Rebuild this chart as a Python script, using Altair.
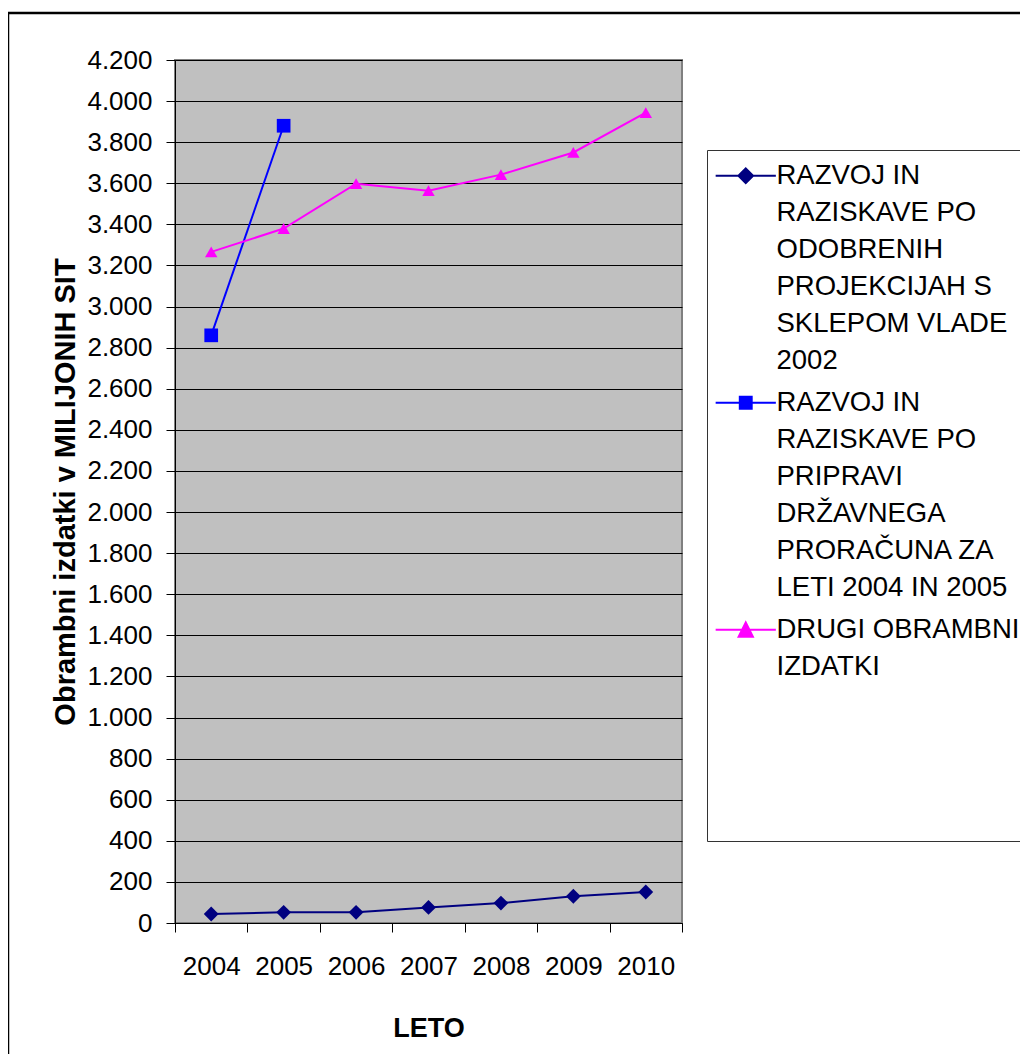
import altair as alt
import pandas as pd

YEARS = ["2004", "2005", "2006", "2007", "2008", "2009", "2010"]
SERIES = [
    "RAZVOJ IN RAZISKAVE PO ODOBRENIH PROJEKCIJAH S SKLEPOM VLADE 2002",
    "RAZVOJ IN RAZISKAVE PO PRIPRAVI DRŽAVNEGA PRORAČUNA ZA LETI 2004 IN 2005",
    "DRUGI OBRAMBNI IZDATKI",
]
LEGEND_LINES = [
    ["RAZVOJ IN", "RAZISKAVE PO", "ODOBRENIH", "PROJEKCIJAH S", "SKLEPOM VLADE", "2002"],
    ["RAZVOJ IN", "RAZISKAVE PO", "PRIPRAVI", "DRŽAVNEGA", "PRORAČUNA ZA", "LETI 2004 IN 2005"],
    ["DRUGI OBRAMBNI", "IZDATKI", "", "", "", ""],
]
VAL_S1 = [44, 52, 52, 76, 97, 130, 151]
YEARS_S2 = ["2004", "2005"]
VAL_S2 = [2860, 3880]
VAL_S3 = [3266, 3380, 3598, 3564, 3642, 3750, 3944]
COLORS = ["#000080", "#0000FF", "#FF00FF"]
SHAPES = ["diamond", "square", "triangle-up"]
MARK_SIZES = [220, 155, 250]
# legend symbols: a line segment with the series marker in its middle
LEGEND_SYMBOLS = [
    "M-4.3,0H4.3M0,-1.05L1.05,0L0,1.05L-1.05,0Z",
    "M-4.3,0H4.3M-0.85,-0.85H0.85V0.85H-0.85Z",
    "M-4.3,0H4.3M0,-1.05L1.02,1.0L-1.02,1.0Z",
]
Y_TICKS = list(range(0, 4201, 200))

rows = []
for y, v in zip(YEARS, VAL_S1):
    rows.append({"series": SERIES[0], "year": y, "value": v})
for y, v in zip(YEARS_S2, VAL_S2):
    rows.append({"series": SERIES[1], "year": y, "value": v})
for y, v in zip(YEARS, VAL_S3):
    rows.append({"series": SERIES[2], "year": y, "value": v})
df = pd.DataFrame(rows)


def arr(lines):
    return "[" + ",".join("'" + l + "'" for l in lines) + "]"


label_expr = (
    f"datum.label == '{SERIES[0]}' ? {arr(LEGEND_LINES[0])} : "
    f"datum.label == '{SERIES[1]}' ? {arr(LEGEND_LINES[1])} : {arr(LEGEND_LINES[2])}"
)

FONT = "Liberation Sans"

legend = alt.Legend(
    orient="none", legendX=532, legendY=90, title=None,
    symbolSize=196, symbolStrokeWidth=2, symbolOpacity=1, symbolOffset=13,
    labelExpr=label_expr, labelFont=FONT, labelFontSize=27.5, labelColor="#000000",
    labelLimit=0, labelBaseline="middle", labelOffset=17,
    padding=12, rowPadding=13, fillColor="#FFFFFF", strokeColor="#333333",
)

x_enc = alt.X(
    "year:N", bandPosition=0.5,
    scale=alt.Scale(type="band", domain=YEARS, paddingInner=0, paddingOuter=0),
    axis=alt.Axis(
        title="LETO", labelAngle=0, tickBand="extent", tickSize=9, tickColor="#000000",
        domainColor="#000000", labelFontSize=26, labelPadding=21, labelColor="#000000",
        titleFontSize=27, titleFontWeight="bold", titlePadding=36, titleColor="#000000",
        grid=False, labelFont=FONT, titleFont=FONT,
    ),
)
y_enc = alt.Y(
    "value:Q",
    scale=alt.Scale(domain=[0, 4200], nice=False),
    axis=alt.Axis(
        values=Y_TICKS, labelExpr="replace(format(datum.value, ','), ',', '.')",
        tickSize=9, tickColor="#000000", labelPadding=14, labelFontSize=26,
        labelColor="#000000", grid=True, gridColor="#000000", gridWidth=1, gridOpacity=1,
        title="Obrambni izdatki v MILIJONIH SIT", titleFontSize=29, titleFontWeight="bold",
        titlePadding=6, titleColor="#000000", domainColor="#000000",
        labelFont=FONT, titleFont=FONT,
    ),
)

base = alt.Chart(df)

lines = base.mark_line(strokeWidth=2).encode(
    x=x_enc, y=y_enc,
    stroke=alt.Stroke("series:N", scale=alt.Scale(domain=SERIES, range=COLORS), legend=None),
)

points = base.mark_point(filled=True, opacity=1).encode(
    x=x_enc, y=y_enc,
    fill=alt.Fill("series:N", scale=alt.Scale(domain=SERIES, range=COLORS), legend=None),
    shape=alt.Shape("series:N", scale=alt.Scale(domain=SERIES, range=SHAPES), legend=None),
    size=alt.Size("series:N", scale=alt.Scale(domain=SERIES, range=MARK_SIZES), legend=None),
)

# legend-only layer (no rows pass the filter; the legend comes from the explicit domains)
legend_layer = base.transform_filter("datum.value < 0").mark_point(filled=True).encode(
    x=x_enc, y=y_enc,
    fill=alt.Fill("series:N", scale=alt.Scale(domain=SERIES, range=COLORS), legend=legend),
    stroke=alt.Stroke("series:N", scale=alt.Scale(domain=SERIES, range=COLORS), legend=legend),
    shape=alt.Shape("series:N", scale=alt.Scale(domain=SERIES, range=LEGEND_SYMBOLS), legend=legend),
)

frame_df = pd.DataFrame({"k": [0]})
frame_top = alt.Chart(frame_df).mark_rule(color="#000000", strokeWidth=2.5).encode(
    x=alt.value(-168), x2=alt.value(1000), y=alt.value(-47)
)
frame_left = alt.Chart(frame_df).mark_rule(color="#000000", strokeWidth=2.5).encode(
    x=alt.value(-167), y=alt.value(-47), y2=alt.value(1010)
)

chart = alt.layer(lines, points, legend_layer, frame_top, frame_left).resolve_scale(
    fill="independent", stroke="independent", shape="independent", size="independent"
).properties(
    width=507, height=863,
    autosize=alt.AutoSizeParams(type="none"),
    padding={"left": 167, "top": 52, "right": 338, "bottom": 131},
    background="#FFFFFF",
).configure(
    style={"guide-label": {"lineHeight": 37}},
    view=alt.ViewConfig(fill="#C0C0C0", stroke="#808080", strokeWidth=2),
)

chart.save("out.html", embed_options={"renderer": "svg", "actions": False})
